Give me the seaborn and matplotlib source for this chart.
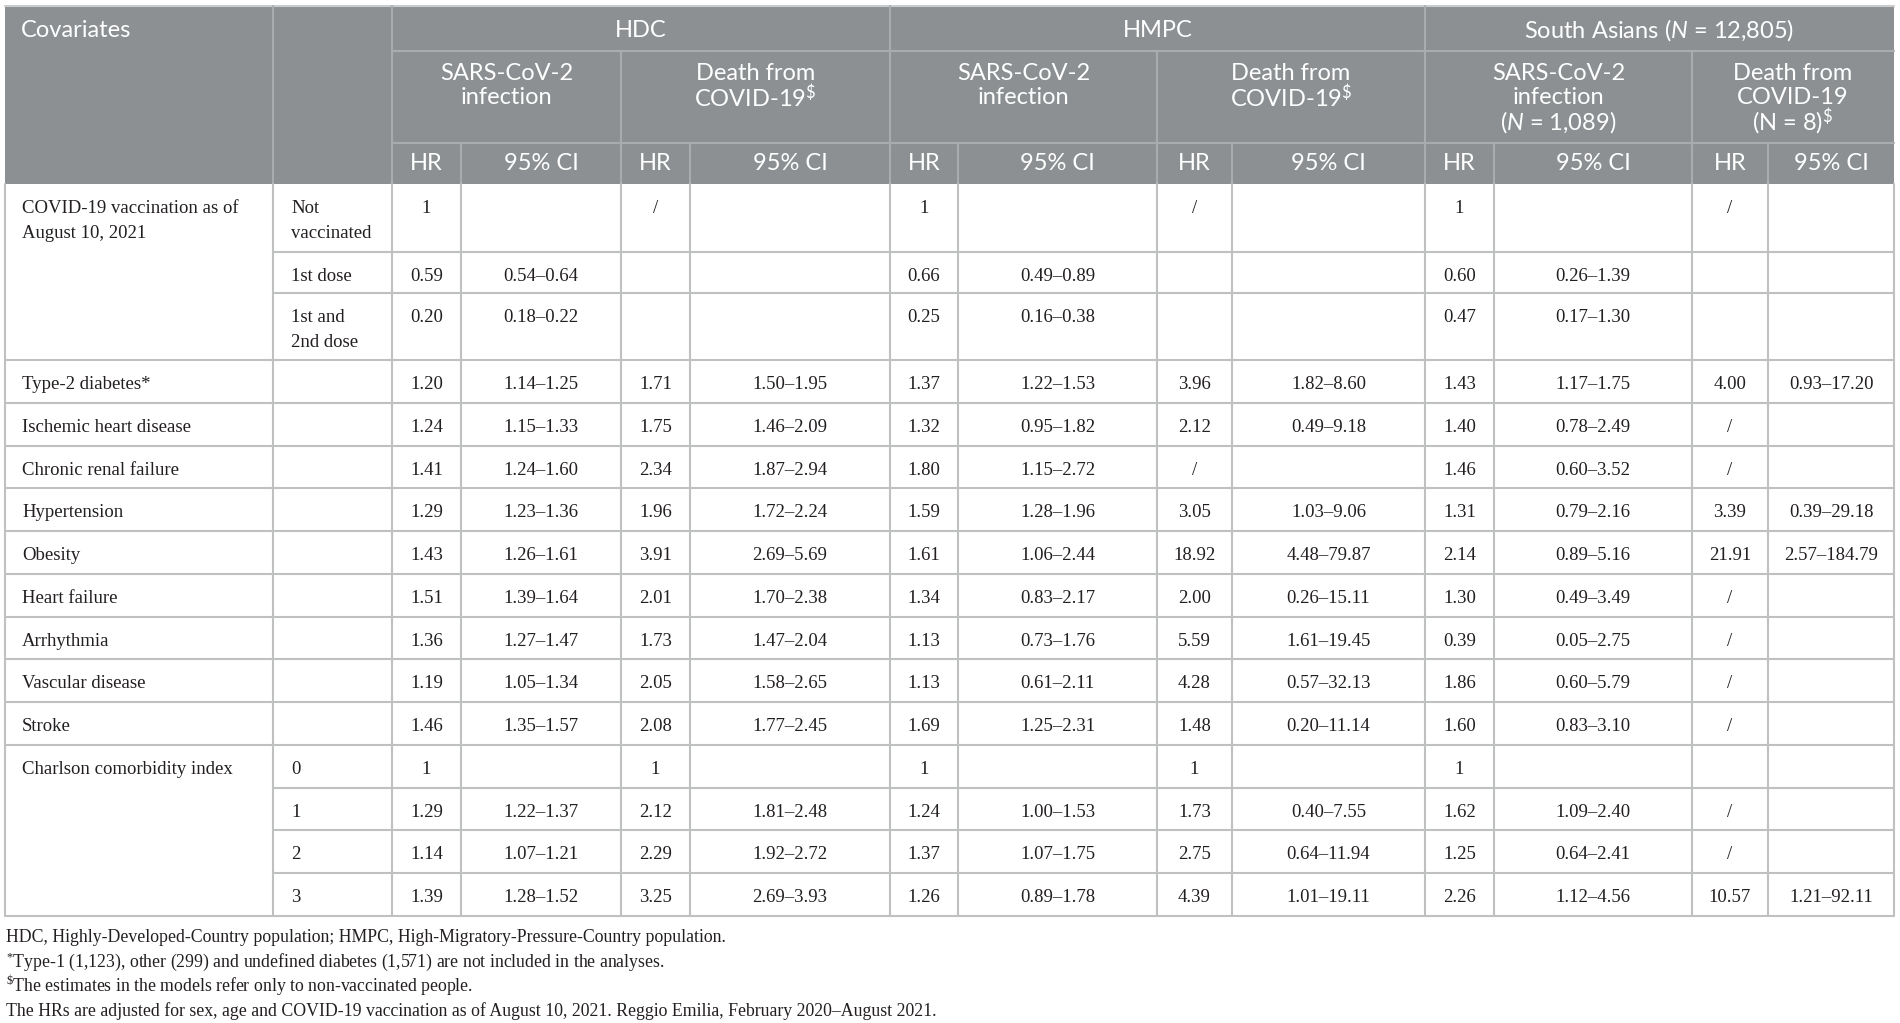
import matplotlib
matplotlib.use("Agg")
import matplotlib.pyplot as plt
import seaborn as sns
from matplotlib.patches import Rectangle

sns.set_theme(style="white")
plt.rcParams["font.family"] = ["Liberation Serif", "DejaVu Serif"]
plt.rcParams["mathtext.fontset"] = "custom"
plt.rcParams["mathtext.rm"] = "Lato"
plt.rcParams["mathtext.it"] = "Lato:italic"

# ---- table content ----
covariates = ["COVID-19 vaccination as of\nAugust 10, 2021", "", "",
              "Type-2 diabetes*", "Ischemic heart disease", "Chronic renal failure",
              "Hypertension", "Obesity", "Heart failure", "Arrhythmia",
              "Vascular disease", "Stroke", "Charlson comorbidity index", "", "", ""]
levels = ["Not\nvaccinated", "1st dose", "1st and\n2nd dose",
          "", "", "", "", "", "", "", "", "", "0", "1", "2", "3"]

hdc_inf_hr = ["1", "0.59", "0.20", "1.20", "1.24", "1.41", "1.29", "1.43", "1.51",
              "1.36", "1.19", "1.46", "1", "1.29", "1.14", "1.39"]
hdc_inf_ci = ["", "0.54–0.64", "0.18–0.22", "1.14–1.25", "1.15–1.33", "1.24–1.60",
              "1.23–1.36", "1.26–1.61", "1.39–1.64", "1.27–1.47", "1.05–1.34",
              "1.35–1.57", "", "1.22–1.37", "1.07–1.21", "1.28–1.52"]
hdc_death_hr = ["/", "", "", "1.71", "1.75", "2.34", "1.96", "3.91", "2.01", "1.73",
                "2.05", "2.08", "1", "2.12", "2.29", "3.25"]
hdc_death_ci = ["", "", "", "1.50–1.95", "1.46–2.09", "1.87–2.94", "1.72–2.24",
                "2.69–5.69", "1.70–2.38", "1.47–2.04", "1.58–2.65", "1.77–2.45",
                "", "1.81–2.48", "1.92–2.72", "2.69–3.93"]
hmpc_inf_hr = ["1", "0.66", "0.25", "1.37", "1.32", "1.80", "1.59", "1.61", "1.34",
               "1.13", "1.13", "1.69", "1", "1.24", "1.37", "1.26"]
hmpc_inf_ci = ["", "0.49–0.89", "0.16–0.38", "1.22–1.53", "0.95–1.82", "1.15–2.72",
               "1.28–1.96", "1.06–2.44", "0.83–2.17", "0.73–1.76", "0.61–2.11",
               "1.25–2.31", "", "1.00–1.53", "1.07–1.75", "0.89–1.78"]
hmpc_death_hr = ["/", "", "", "3.96", "2.12", "/", "3.05", "18.92", "2.00", "5.59",
                 "4.28", "1.48", "1", "1.73", "2.75", "4.39"]
hmpc_death_ci = ["", "", "", "1.82–8.60", "0.49–9.18", "", "1.03–9.06", "4.48–79.87",
                 "0.26–15.11", "1.61–19.45", "0.57–32.13", "0.20–11.14", "",
                 "0.40–7.55", "0.64–11.94", "1.01–19.11"]
sa_inf_hr = ["1", "0.60", "0.47", "1.43", "1.40", "1.46", "1.31", "2.14", "1.30",
             "0.39", "1.86", "1.60", "1", "1.62", "1.25", "2.26"]
sa_inf_ci = ["", "0.26–1.39", "0.17–1.30", "1.17–1.75", "0.78–2.49", "0.60–3.52",
             "0.79–2.16", "0.89–5.16", "0.49–3.49", "0.05–2.75", "0.60–5.79",
             "0.83–3.10", "", "1.09–2.40", "0.64–2.41", "1.12–4.56"]
sa_death_hr = ["/", "", "", "4.00", "/", "/", "3.39", "21.91", "/", "/", "/", "/",
               "", "/", "/", "10.57"]
sa_death_ci = ["", "", "", "0.93–17.20", "", "", "0.39–29.18", "2.57–184.79", "", "",
               "", "", "", "", "", "1.21–92.11"]

groups = ["HDC", "HMPC", r"South Asians ($\mathit{N}$ = 12,805)"]
outcomes = [["SARS-CoV-2", "infection"],
            ["Death from", r"COVID-19$^{\mathregular{\$}}$"],
            ["SARS-CoV-2", "infection"],
            ["Death from", r"COVID-19$^{\mathregular{\$}}$"],
            ["SARS-CoV-2", "infection", r"($\mathit{N}$ = 1,089)"],
            ["Death from", "COVID-19", r"(N = 8)$^{\mathregular{\$}}$"]]
footnotes = ["HDC, Highly-Developed-Country population; HMPC, High-Migratory-Pressure-Country population.",
             r"$^{\mathregular{*}}$Type-1 (1,123), other (299) and undefined diabetes (1,571) are not included in the analyses.",
             r"$^{\mathregular{\$}}$The estimates in the models refer only to non-vaccinated people.",
             "The HRs are adjusted for sex, age and COVID-19 vaccination as of August 10, 2021. Reggio Emilia, February 2020–August 2021."]

value_cols = [hdc_inf_hr, hdc_inf_ci, hdc_death_hr, hdc_death_ci,
              hmpc_inf_hr, hmpc_inf_ci, hmpc_death_hr, hmpc_death_ci,
              sa_inf_hr, sa_inf_ci, sa_death_hr, sa_death_ci]

# ---- layout ----
col_x = [5, 273, 392, 461, 621, 690, 890, 958, 1157, 1232, 1425, 1494, 1692, 1768, 1894]
head_top, head_r1, head_r2, head_bot = 6, 51, 143, 184
row_h = [68, 41, 67] + [42.77] * 13
row_y = [head_bot]
for h in row_h:
    row_y.append(row_y[-1] + h)
grouped = {1, 2, 13, 14, 15}   # rows that continue the covariate above

head_bg = "#8c9092"
head_line = "#a9acae"
grid = "#bfc0c0"
ink = "#231f20"
hfont = dict(family="Lato", color="white", fontsize=17)
bfont = dict(color=ink, fontsize=13.5)

fig = plt.figure(figsize=(19, 10.23), dpi=100)
ax = fig.add_axes([0, 0, 1, 1])
ax.set_xlim(0, 1900)
ax.set_ylim(1023, 0)
ax.axis("off")

# header block
ax.add_patch(Rectangle((col_x[0], head_top), col_x[-1] - col_x[0], head_bot - head_top,
                       facecolor=head_bg, edgecolor="none"))
ax.plot([col_x[0], col_x[-1]], [head_top - 0.5, head_top - 0.5], color="#c9cbcc", lw=1.5)
ax.plot([col_x[2], col_x[-1]], [head_r1, head_r1], color=head_line, lw=1.5)
ax.plot([col_x[2], col_x[-1]], [head_r2, head_r2], color=head_line, lw=1.5)
for i, x in enumerate(col_x[1:-1], start=1):
    if i in (1, 2, 6, 10):
        top = head_top
    elif i in (4, 8, 12):
        top = head_r1
    else:
        top = head_r2
    ax.plot([x, x], [top, head_bot], color=head_line, lw=1.5)

ax.text(21, 30.5, "Covariates", ha="left", va="center", **hfont)
for g, name in enumerate(groups):
    xc = (col_x[2 + 4 * g] + col_x[6 + 4 * g]) / 2
    ax.text(xc, 30.5, name, ha="center", va="center", **hfont)
for k, lines in enumerate(outcomes):
    xc = (col_x[2 + 2 * k] + col_x[4 + 2 * k]) / 2
    for j, line in enumerate(lines):
        ax.text(xc, 74 + 24 * j, line, ha="center", va="center", **hfont)
for c in range(12):
    xc = (col_x[2 + c] + col_x[3 + c]) / 2
    ax.text(xc, 163, "HR" if c % 2 == 0 else "95% CI", ha="center", va="center", **hfont)

# body grid
for x in col_x:
    ax.plot([x, x], [head_bot, row_y[-1]], color=grid, lw=1.5)
for r in range(1, len(row_y)):
    x0 = col_x[1] if r in grouped else col_x[0]
    if r == len(row_y) - 1:
        x0 = col_x[0]
    ax.plot([x0, col_x[-1]], [row_y[r], row_y[r]], color=grid, lw=1.5)

# body text
for r in range(len(row_h)):
    y0 = row_y[r] + 24.5
    for j, line in enumerate(covariates[r].split("\n")):
        if line:
            ax.text(22, y0 + 25 * j, line, ha="left", va="center", **bfont)
    for j, line in enumerate(levels[r].split("\n")):
        if line:
            ax.text(col_x[1] + 18, y0 + 25 * j, line, ha="left", va="center", **bfont)
    for c, col in enumerate(value_cols):
        if col[r]:
            xc = (col_x[2 + c] + col_x[3 + c]) / 2
            ax.text(xc, y0, col[r], ha="center", va="center", **bfont)

for i, note in enumerate(footnotes):
    ax.text(6, 937 + 24.6 * i, note, ha="left", va="center", color=ink, fontsize=12.8)

fig.savefig("out.png", dpi=100, facecolor="white")
